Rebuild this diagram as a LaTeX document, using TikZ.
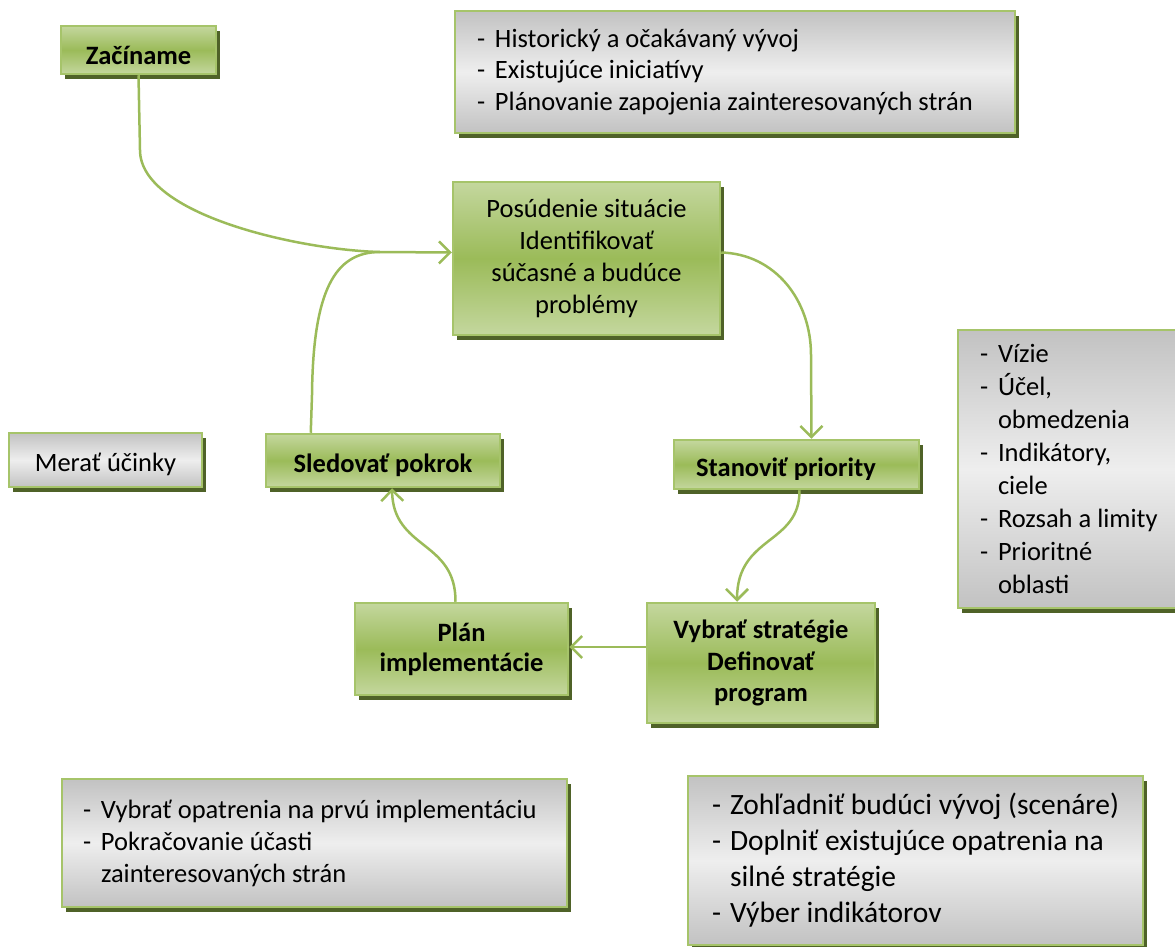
\documentclass[tikz,border=0pt]{standalone}
\usepackage{fontspec}
\setmainfont{Carlito}
\usetikzlibrary{arrows.meta,shadows}
\definecolor{olv}{HTML}{9BBB59}
\definecolor{olvborder}{HTML}{A6C46A}
\definecolor{olvlight}{HTML}{C4D79E}
\definecolor{olvdark}{HTML}{4F6228}
\definecolor{grytop}{HTML}{C2C2C2}
\definecolor{grymid}{HTML}{EEEEEE}
\newcommand{\li}[1]{\mbox{\makebox[18pt][l]{-}#1}}
\newcommand{\lc}[1]{\mbox{\hspace*{18pt}#1}}
\tikzset{
  boxbase/.style={rectangle, draw=olvborder, line width=2.5pt, inner sep=0pt,
    drop shadow={shadow xshift=4pt, shadow yshift=-5pt, fill=olvdark, opacity=1}},
  greenbox/.style={boxbase, top color=olvlight, bottom color=olvlight, middle color=olv,
    align=flush center, font=\fontsize{26.5}{32}\selectfont},
  graybox/.style={boxbase, top color=grytop, bottom color=grytop, middle color=grymid,
    align=flush left, font=\fontsize{26.5}{32}\selectfont},
  conn/.style={draw=olv, line width=2.5pt, -{Straight Barb[length=11pt,width=22pt]}},
}
\begin{document}
\begin{tikzpicture}[x=1pt,y=-1pt]
\useasboundingbox (0,0) rectangle (1175,947);
\begin{scope}
\clip (0,0) rectangle (1175,947);

% green process boxes
\node[greenbox, font=\bfseries\fontsize{26.5}{32}\selectfont, minimum width=155pt, minimum height=48pt,
  text height=30pt, text depth=0pt] (zac) at (138.5,50) {Začíname};
\node[greenbox, minimum width=267pt, minimum height=153pt] (pos) at (586.5,258.5)
  {Posúdenie situácie\\Identifikovať\\súčasné a budúce\\problémy};
\node[greenbox, font=\bfseries\fontsize{26.5}{32}\selectfont, minimum width=234pt, minimum height=53pt,
  text height=23pt, text depth=0pt] (sled) at (383,460.5) {Sledovať pokrok};
\node[greenbox, minimum width=245pt, minimum height=49pt] (stan) at (796.5,464.5) {};
\node[greenbox, font=\bfseries\fontsize{26.5}{31.5}\selectfont, minimum width=228pt, minimum height=120pt]
  (vyb) at (761,663) {Vybrať stratégie\\Definovať\\program};
\node[greenbox, font=\bfseries\fontsize{26.5}{30}\selectfont, minimum width=213pt, minimum height=92pt]
  (plan) at (461.5,649) {Plán\\implementácie};

% gray info boxes
\node[graybox, align=flush center, minimum width=193pt, minimum height=54pt,
  text height=22pt, text depth=0pt] (mer) at (105.5,460) {Merať účinky};
\node[graybox, font=\fontsize{26.5}{31.7}\selectfont, inner xsep=22pt, text width=516pt, minimum height=122pt] (hist) at (735,72)
  {\li{Historický a očakávaný vývoj}\\\li{Existujúce iniciatívy}\\\li{Plánovanie zapojenia zainteresovaných strán}};
\node[graybox, font=\fontsize{26.5}{33}\selectfont, inner xsep=22pt, text width=188pt, minimum height=278pt] (viz) at (1074,469)
  {\li{Vízie}\\\li{Účel,}\\\lc{obmedzenia}\\\li{Indikátory,}\\\lc{ciele}\\\li{Rozsah a limity}\\\li{Prioritné}\\\lc{oblasti}};
\node[graybox, inner xsep=21pt, text width=463pt, minimum height=128pt] (opat) at (314.5,843)
  {\li{Vybrať opatrenia na prvú implementáciu}\\\li{Pokračovanie účasti}\\\lc{zainteresovaných strán}};
\node[graybox, font=\fontsize{29.5}{36}\selectfont, inner xsep=24pt, text width=407pt, minimum height=169pt] (zoh) at (915.5,860.5)
  {\li{Zohľadniť budúci vývoj (scenáre)}\\\li{Doplniť existujúce opatrenia na}\\\lc{silné stratégie}\\\li{Výber indikátorov}};
\end{scope}

% clipped label of the priority box
\begin{scope}
\clip (676,442) rectangle (917,479);
\node[font=\bfseries\fontsize{26.5}{32}\selectfont, anchor=base, inner sep=0pt] (stantext) at (786,476) {Stanoviť priority};
\end{scope}

% connectors
\draw[draw=olv, line width=2.5pt] (zac.south) -- (140,150) .. controls (140,215) and (300,250) .. (380,252);
\draw[conn] ([xshift=46pt]sled.north west) -- (312,395) .. controls (313,290) and (335,252) .. (380,252) -- ([yshift=6pt]pos.west);
\draw[conn] ([yshift=6pt]pos.east) .. controls (775,254) and (811,300) .. (811,355) -- ([xshift=15pt]stan.north);
\draw[conn] ([xshift=3pt]stan.south) .. controls (800,545) and (737,535) .. ([xshift=-24pt]vyb.north);
\draw[conn] ([yshift=16pt]vyb.west) -- ([yshift=2pt]plan.east);
\draw[conn] ([xshift=-6pt]plan.north) .. controls (456,540) and (393,550) .. ([xshift=9pt]sled.south);
\end{tikzpicture}
\end{document}
